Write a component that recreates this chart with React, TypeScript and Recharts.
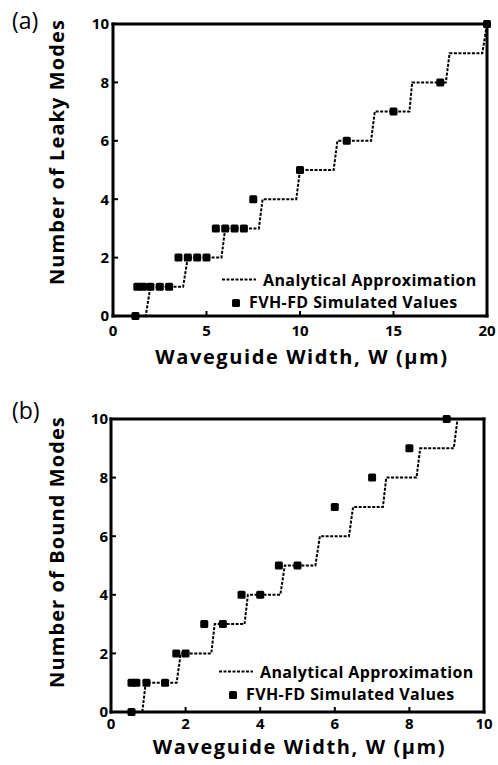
import { ComposedChart, Line, Scatter, XAxis, YAxis, Legend } from "recharts";

// (a) leaky modes, width 0-20 um
const leakyStepX = [1.2, 1.75, 2.0, 3.75, 4.0, 5.8, 6.0, 7.8, 8.0, 9.8, 10.0, 11.8, 12.0, 13.8, 14.0, 15.85, 16.0, 17.8, 18.0, 19.75, 20.0];
const leakyStepY = [0, 0, 1, 1, 2, 2, 3, 3, 4, 4, 5, 5, 6, 6, 7, 7, 8, 8, 9, 9, 10];
const leakySimX = [1.2, 1.3, 1.6, 2.0, 2.5, 3.0, 3.5, 4.0, 4.5, 5.0, 5.5, 6.0, 6.5, 7.0, 7.5, 10.0, 12.5, 15.0, 17.5, 20.0];
const leakySimY = [0, 1, 1, 1, 1, 1, 2, 2, 2, 2, 3, 3, 3, 3, 4, 5, 6, 7, 8, 10];
const leakyXTicks = [0, 5, 10, 15, 20];

// (b) bound modes, width 0-10 um
const boundStepX = [0.6, 0.84, 0.93, 1.76, 1.87, 2.69, 2.78, 3.58, 3.67, 4.54, 4.66, 5.48, 5.6, 6.38, 6.49, 7.29, 7.38, 8.19, 8.29, 9.19, 9.29];
const boundStepY = [0, 0, 1, 1, 2, 2, 3, 3, 4, 4, 5, 5, 6, 6, 7, 7, 8, 8, 9, 9, 10];
const boundSimX = [0.55, 0.55, 0.68, 0.95, 1.45, 1.75, 2.0, 2.5, 3.0, 3.5, 4.0, 4.5, 5.0, 6.0, 7.0, 8.0, 9.0];
const boundSimY = [0, 1, 1, 1, 1, 2, 2, 3, 3, 4, 4, 5, 5, 7, 8, 9, 10];
const boundXTicks = [0, 2, 4, 6, 8, 10];

const modeTicks = [0, 2, 4, 6, 8, 10];

const W = 498;
const FONT = '"Open Sans", "Noto Sans", sans-serif';
const INK = "#000";
const DASH = "3 1.5";

const zip = (xs: number[], ys: number[]) => xs.map((x, i) => ({ x, y: ys[i] }));

function SquareDot(props: any) {
  const { cx, cy } = props;
  if (cx == null || cy == null) return null;
  return <rect x={cx - 4} y={cy - 4} width={8} height={8} rx={1.5} fill={INK} />;
}

function LegendKey() {
  const txt = { fontFamily: FONT, fontSize: 16, fontWeight: 700, fill: INK, letterSpacing: 0.4 };
  return (
    <svg width={270} height={52} style={{ display: "block" }}>
      <line x1={7} x2={41} y1={17.5} y2={17.5} stroke={INK} strokeWidth={2} strokeDasharray={DASH} />
      <text x={48} y={24} {...txt}>Analytical Approximation</text>
      <rect x={17} y={37} width={8} height={8} rx={1.5} fill={INK} />
      <text x={34} y={46} {...txt}>FVH-FD Simulated Values</text>
    </svg>
  );
}

type PanelProps = {
  tag: string;
  yTitle: string;
  stepX: number[];
  stepY: number[];
  simX: number[];
  simY: number[];
  xMax: number;
  xTicks: number[];
  top: number;
  height: number;
  plot: { left: number; right: number; top: number; bottom: number };
  xTickGap: number;
  yTickGap: number;
  xTitleY: number;
  yTitleMid: number;
  tagY: number;
  legend: { left: number; top: number };
};

function Panel(p: PanelProps) {
  // axes are 1px thick boxes, so margins leave that 1px out
  const margin = {
    left: p.plot.left - 1,
    right: W - p.plot.right - 1,
    top: p.plot.top - p.top - 1,
    bottom: p.top + p.height - p.plot.bottom - 1,
  };
  const frame = { stroke: INK, strokeWidth: 3, strokeLinecap: "square" as const };
  const tickLine = { stroke: INK, strokeWidth: 2 };
  const tickFont = { fill: INK, fontSize: 15, fontWeight: 700, fontFamily: FONT };
  const titleFont = { fontFamily: FONT, fontSize: 20, fontWeight: 700, fill: INK, letterSpacing: 1.1 };
  const midX = (p.plot.left + p.plot.right) / 2 + 2;

  return (
    <div style={{ position: "absolute", left: 0, top: p.top }}>
      <ComposedChart width={W} height={p.height} margin={margin}>
        <XAxis
          dataKey="x"
          type="number"
          domain={[0, p.xMax]}
          ticks={p.xTicks}
          interval={0}
          height={1}
          axisLine={frame}
          tickLine={tickLine}
          tickSize={-5}
          tickMargin={p.xTickGap}
          tick={tickFont}
          label={{
            content: () => (
              <text
                x={midX}
                y={p.xTitleY - p.top}
                textAnchor="middle"
                {...titleFont}
                letterSpacing={1.6}
              >
                Waveguide Width, W  (μm)
              </text>
            ),
          }}
        />
        <XAxis
          xAxisId="top"
          orientation="top"
          type="number"
          domain={[0, p.xMax]}
          ticks={p.xTicks}
          interval={0}
          height={1}
          axisLine={frame}
          tickLine={tickLine}
          tickSize={-5}
          tick={false}
        />
        <YAxis
          dataKey="y"
          type="number"
          domain={[0, 10]}
          ticks={modeTicks}
          interval={0}
          width={1}
          axisLine={frame}
          tickLine={tickLine}
          tickSize={-5}
          tickMargin={p.yTickGap}
          tick={tickFont}
          label={{
            content: () => (
              <text
                x={64}
                y={p.yTitleMid - p.top}
                textAnchor="middle"
                transform={`rotate(-90, 64, ${p.yTitleMid - p.top})`}
                {...titleFont}
              >
                {p.yTitle}
              </text>
            ),
          }}
        />
        <YAxis
          yAxisId="right"
          orientation="right"
          type="number"
          domain={[0, 10]}
          ticks={modeTicks}
          interval={0}
          width={1}
          axisLine={frame}
          tickLine={tickLine}
          tickSize={-5}
          tick={false}
        />
        <Line
          data={zip(p.stepX, p.stepY)}
          dataKey="y"
          type="linear"
          stroke={INK}
          strokeWidth={2}
          strokeDasharray={DASH}
          dot={false}
          activeDot={false}
          isAnimationActive={false}
        />
        <Scatter
          data={zip(p.simX, p.simY)}
          dataKey="y"
          shape={<SquareDot />}
          isAnimationActive={false}
        />
        <Legend
          layout="horizontal"
          verticalAlign="middle"
          align="center"
          content={() => <LegendKey />}
          wrapperStyle={{ left: p.legend.left, top: p.legend.top, width: 270, height: 52 }}
        />
      </ComposedChart>
      <svg
        width={60}
        height={50}
        style={{ position: "absolute", left: 0, top: 0, pointerEvents: "none" }}
      >
        <text x={12} y={p.tagY - p.top} fontFamily={FONT} fontSize={23} fill={INK}>
          {p.tag}
        </text>
      </svg>
    </div>
  );
}

export default function App() {
  return (
    <div
      style={{
        position: "absolute",
        left: 0,
        top: 0,
        width: W,
        height: 765,
        background: "#fff",
        overflow: "hidden",
      }}
    >
      <Panel
        tag="(a)"
        yTitle="Number of Leaky  Modes"
        stepX={leakyStepX}
        stepY={leakyStepY}
        simX={leakySimX}
        simY={leakySimY}
        xMax={20}
        xTicks={leakyXTicks}
        top={0}
        height={382}
        plot={{ left: 113, right: 487, top: 24, bottom: 316 }}
        xTickGap={14}
        yTickGap={9}
        xTitleY={364}
        yTitleMid={152}
        tagY={29}
        legend={{ left: 215, top: 262 }}
      />
      <Panel
        tag="(b)"
        yTitle="Number of Bound Modes"
        stepX={boundStepX}
        stepY={boundStepY}
        simX={boundSimX}
        simY={boundSimY}
        xMax={10}
        xTicks={boundXTicks}
        top={382}
        height={383}
        plot={{ left: 111, right: 484, top: 419, bottom: 712 }}
        xTickGap={11}
        yTickGap={8}
        xTitleY={754}
        yTitleMid={552}
        tagY={419}
        legend={{ left: 212, top: 272 }}
      />
    </div>
  );
}
